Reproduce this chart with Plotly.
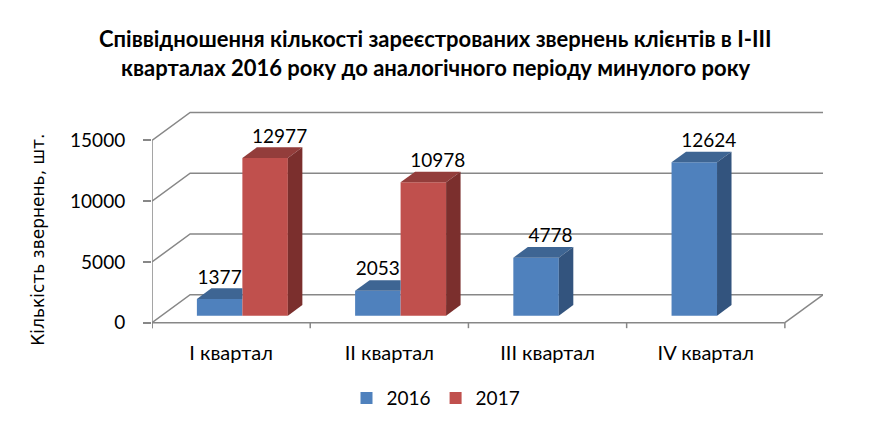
import plotly.graph_objects as go

# ---- data ----
categories = ["I квартал", "II квартал", "III квартал", "IV квартал"]
series_names = ["2016", "2017"]
values_2016 = [1377, 2053, 4778, 12624]
values_2017 = [12977, 10978, None, None]
y_ticks = [0, 5000, 10000, 15000]

title_lines = ["Співвідношення кількості зареєстрованих звернень клієнтів в І-ІІІ",
               "кварталах 2016 року до аналогічного періоду минулого року"]
y_title = "Кількість звернень, шт."

# ---- styling / pseudo-3D geometry ----
FONT = "Lato"
DXU = 0.241      # full depth of the chart box in x units
DY = 2300        # full depth of the chart box in value units
D0 = 0.25        # depth at which bar fronts sit
DD = 0.38        # depth of each bar
BW = 0.2875      # bar width
PAIR_SHIFT = 0.011
GRID = "#878787"

front_col = {"2016": "#4F81BD", "2017": "#C0504D"}
top_col = {"2016": "#3E6593", "2017": "#933D3B"}
side_col = {"2016": "#33547E", "2017": "#7B2F2D"}

series = {"2016": values_2016, "2017": values_2017}
n = len(categories)

fig = go.Figure()

def bar_left(i, s):
    c = i + PAIR_SHIFT + D0 * DXU
    return c - BW if s == "2016" else c

# front faces of the bars (real bar traces)
for s in series_names:
    xs = [bar_left(i, s) + BW / 2 for i in range(n)]
    fig.add_trace(go.Bar(
        x=xs, y=series[s], base=D0 * DY, width=BW, name=s,
        marker=dict(color=front_col[s], line=dict(width=0)),
        hoverinfo="skip"))

# top and side faces
for s in series_names:
    for i, v in enumerate(series[s]):
        if v is None:
            continue
        xl = bar_left(i, s)
        xr = xl + BW
        base = D0 * DY
        top = base + v
        dx, dy = DD * DXU, DD * DY
        partner = s == "2016" and values_2017[i] is not None
        if partner:
            tx = [xl, xr, xr, xl + dx, xl]
        else:
            tx = [xl, xr, xr + dx, xl + dx, xl]
        ty = [top, top, top + dy, top + dy, top]
        fig.add_trace(go.Scatter(x=tx, y=ty, fill="toself", mode="lines",
                                 line=dict(width=0), fillcolor=top_col[s],
                                 hoverinfo="skip", showlegend=False))
        if not partner:
            sx = [xr, xr, xr + dx, xr + dx, xr]
            sy = [base, top, top + dy, base + dy, base]
            fig.add_trace(go.Scatter(x=sx, y=sy, fill="toself", mode="lines",
                                     line=dict(width=0), fillcolor=side_col[s],
                                     hoverinfo="skip", showlegend=False))

# data labels
for s in series_names:
    lx, ly, lt = [], [], []
    for i, v in enumerate(series[s]):
        if v is None:
            continue
        xl = bar_left(i, s)
        partner = s == "2016" and values_2017[i] is not None
        depth_off = 0 if partner else DD * DXU
        lx.append(xl + BW / 2 + depth_off)
        ly.append(D0 * DY + v + DD * DY)
        lt.append(str(v))
    fig.add_trace(go.Scatter(x=lx, y=ly, text=lt, mode="text",
                             textposition="top center",
                             textfont=dict(family=FONT, size=19, color="#000"),
                             hoverinfo="skip", showlegend=False, cliponaxis=False))

# walls / gridlines / floor as shapes behind the bars
shapes = []
x0, x1 = -0.5, n - 0.5
for t in y_ticks:
    shapes.append(dict(type="path", layer="below",
                       path=f"M {x0},{t} L {x0 + DXU},{t + DY} L {x1 + DXU},{t + DY}",
                       line=dict(color=GRID, width=1.5)))
shapes.append(dict(type="line", layer="below", x0=x0, y0=0, x1=x1, y1=0,
                   line=dict(color=GRID, width=1.5)))
shapes.append(dict(type="line", layer="below", x0=x1, y0=0, x1=x1 + DXU, y1=DY,
                   line=dict(color=GRID, width=1.5)))
shapes.append(dict(type="line", layer="below", x0=x0, y0=-450, x1=x0, y1=y_ticks[-1],
                   line=dict(color=GRID, width=1.5)))
for b in range(n + 1):
    shapes.append(dict(type="line", layer="below", x0=b - 0.5, y0=0, x1=b - 0.5, y1=-450,
                       line=dict(color=GRID, width=1.5)))

annotations = [
    dict(text=f"<b>{title_lines[0]}</b>", x=0.423, y=1.327, xref="paper", yref="paper",
         xanchor="center", yanchor="middle", showarrow=False,
         font=dict(family=FONT, size=22, color="#000")),
    dict(text=f"<b>{title_lines[1]}</b>", x=0.423, y=1.195, xref="paper", yref="paper",
         xanchor="center", yanchor="middle", showarrow=False,
         font=dict(family=FONT, size=22, color="#000")),
    dict(text=y_title, textangle=-90, x=-0.17, y=0.41, xref="paper", yref="paper",
         xanchor="center", yanchor="middle", showarrow=False,
         font=dict(family="DejaVu Sans", size=17, color="#000")),
]

fig.update_layout(
    width=872, height=438,
    margin=dict(l=152, r=49, t=110, b=108),
    paper_bgcolor="white", plot_bgcolor="white",
    barmode="overlay",
    shapes=shapes, annotations=annotations,
    showlegend=True,
    legend=dict(orientation="h", xref="container", yref="container",
                x=0.5, y=0.091, xanchor="center", yanchor="middle",
                font=dict(family=FONT, size=19, color="#000"),
                itemwidth=30, traceorder="normal"),
    xaxis=dict(range=[x0, x1 + DXU], tickvals=list(range(n)), ticktext=categories,
               showgrid=False, zeroline=False, showline=False, ticks="",
               ticklabelstandoff=9,
               tickfont=dict(family=FONT, size=20, color="#000"), fixedrange=True),
    yaxis=dict(range=[-600, 17500], tickvals=y_ticks, ticktext=[str(t) for t in y_ticks],
               showgrid=False, zeroline=False, showline=False,
               ticks="outside", ticklen=8, tickcolor=GRID, tickwidth=1.5,
               ticklabelstandoff=14,
               tickfont=dict(family=FONT, size=19, color="#000"), fixedrange=True),
)

fig.write_html("out.html")
